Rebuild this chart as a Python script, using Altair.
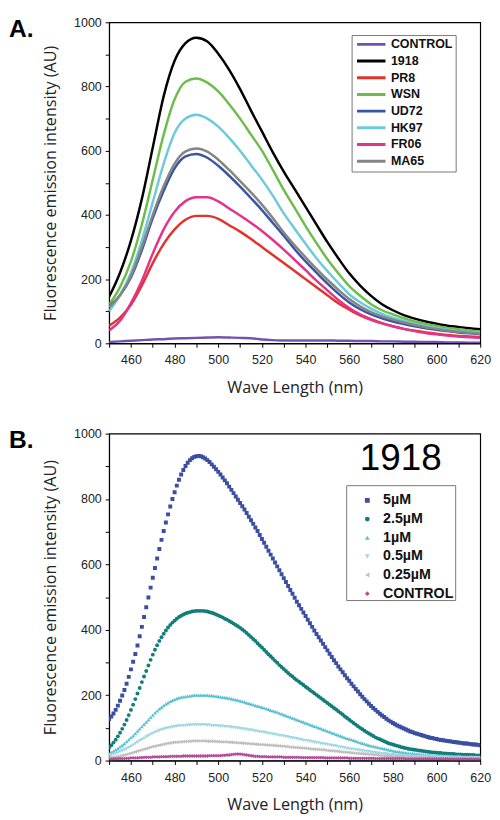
import altair as alt
import pandas as pd

# ---------------- Panel A data (5 nm steps) ----------------
WL_A = list(range(450, 621, 5))
A_SERIES = ["CONTROL", "1918", "PR8", "WSN", "UD72", "HK97", "FR06", "MA65"]
A_COLORS = ["#7552b0", "#000000", "#e5312b", "#6cbd4b", "#3a55a5", "#6ccadb", "#e4338a", "#858585"]

A_CONTROL = [4, 6, 8, 10, 12, 13, 15, 16, 17, 18, 19, 18, 17, 16, 12, 10, 9, 9, 9, 9, 9, 8, 8, 7, 7, 6, 6, 5, 5, 4, 4, 3, 3, 2, 2]
A_1918 = [145, 220, 320, 450, 610, 770, 880, 935, 952, 940, 902, 852, 792, 725, 660, 595, 535, 480, 425, 370, 315, 265, 218, 180, 148, 122, 103, 88, 77, 68, 61, 55, 51, 47, 44]
A_PR8 = [55, 80, 120, 180, 250, 310, 355, 385, 397, 397, 388, 368, 348, 325, 300, 275, 250, 225, 200, 175, 150, 125, 105, 87, 73, 62, 53, 45, 39, 34, 30, 26, 23, 21, 20]
A_WSN = [120, 175, 255, 370, 510, 650, 760, 815, 825, 812, 785, 745, 700, 650, 600, 540, 478, 422, 365, 312, 262, 218, 178, 148, 122, 103, 90, 78, 68, 60, 54, 48, 44, 40, 37]
A_UD72 = [115, 150, 205, 290, 390, 475, 545, 582, 590, 578, 553, 522, 488, 452, 415, 375, 335, 293, 255, 220, 186, 155, 127, 106, 90, 78, 68, 60, 53, 47, 42, 38, 34, 31, 29]
A_HK97 = [100, 150, 220, 320, 440, 560, 655, 700, 712, 700, 675, 640, 600, 555, 510, 460, 405, 357, 310, 265, 225, 188, 153, 128, 108, 92, 80, 70, 61, 53, 47, 42, 38, 35, 33]
A_FR06 = [40, 70, 125, 195, 280, 355, 410, 443, 455, 455, 442, 420, 398, 375, 350, 322, 292, 260, 228, 195, 165, 135, 110, 90, 75, 63, 53, 45, 38, 32, 28, 24, 21, 19, 17]
A_MA65 = [112, 150, 210, 300, 400, 490, 560, 598, 607, 597, 572, 540, 505, 470, 432, 390, 345, 305, 268, 232, 198, 167, 138, 115, 97, 84, 74, 65, 57, 50, 45, 40, 36, 33, 30]
A_VALUES = [A_CONTROL, A_1918, A_PR8, A_WSN, A_UD72, A_HK97, A_FR06, A_MA65]

# ---------------- Panel B data (1 nm steps) ----------------
WL_B = list(range(450, 621, 1))
B_SERIES = ["5µM", "2.5µM", "1µM", "0.5µM", "0.25µM", "CONTROL"]
B_COLORS = ["#3b4fa2", "#127e79", "#58c0d2", "#a0d7e3", "#bdbdbd", "#b24c9c"]
B_SHAPES = ["square", "circle", "triangle-up", "triangle-down", "triangle-left", "diamond"]
B_SIZES = [16, 15, 34, 32, 32, 38]

B_5 = [127, 135, 144, 155, 168, 183, 199, 216, 235, 256,
       279, 302, 326, 352, 380, 409, 439, 469, 499, 529,
       559, 589, 618, 647, 675, 702, 728, 753, 777, 800,
       821, 841, 859, 875, 889, 901, 911, 919, 925, 929,
       931, 932, 931, 928, 924, 919, 913, 906, 899, 891,
       883, 875, 866, 857, 848, 838, 828, 818, 808, 798,
       788, 778, 768, 757, 746, 735, 724, 713, 702, 690,
       678, 666, 654, 642, 630, 618, 606, 594, 582, 570,
       558, 546, 534, 522, 510, 498, 486, 475, 464, 453,
       442, 431, 420, 409, 398, 387, 377, 367, 357, 347,
       337, 327, 317, 307, 298, 288, 279, 270, 261, 252,
       244, 235, 227, 219, 211, 203, 195, 188, 181, 174,
       167, 161, 155, 149, 143, 138, 133, 128, 123, 119,
       115, 111, 107, 104, 101, 98, 95, 92, 89, 87,
       84, 82, 80, 78, 76, 74, 72, 70, 69, 67,
       66, 64, 63, 62, 61, 60, 59, 58, 57, 56,
       55, 54, 53, 52, 52, 51, 50, 49, 49, 48,
       47]
B_25 = [40, 47, 55, 64, 74, 85, 97, 110, 124, 139,
        155, 171, 188, 205, 222, 240, 257, 274, 291, 308,
        324, 339, 353, 366, 377, 388, 398, 407, 415, 422,
        428, 434, 439, 443, 447, 450, 452, 454, 456, 457,
        458, 458, 458, 458, 457, 456, 454, 452, 450, 447,
        444, 441, 438, 434, 431, 427, 423, 419, 415, 411,
        406, 401, 396, 390, 384, 378, 372, 366, 359, 352,
        346, 339, 332, 325, 319, 312, 305, 299, 292, 286,
        280, 274, 268, 262, 257, 251, 246, 241, 236, 231,
        226, 221, 216, 211, 206, 201, 196, 191, 186, 181,
        176, 171, 166, 161, 156, 151, 146, 141, 135, 130,
        125, 120, 115, 110, 105, 100, 96, 91, 87, 83,
        79, 75, 71, 68, 65, 62, 59, 56, 53, 51,
        49, 47, 45, 43, 41, 39, 38, 36, 35, 34,
        33, 32, 31, 30, 29, 28, 27, 26, 25, 25,
        24, 23, 23, 22, 22, 21, 21, 20, 20, 19,
        19, 19, 18, 18, 18, 17, 17, 17, 16, 16,
        16]
B_1 = [22, 25, 29, 33, 37, 42, 47, 52, 58, 64,
       70, 76, 83, 90, 97, 104, 111, 118, 125, 132,
       139, 146, 152, 158, 163, 168, 173, 177, 181, 184,
       187, 190, 192, 194, 195, 196, 197, 198, 199, 200,
       200, 200, 200, 200, 200, 200, 199, 199, 198, 197,
       196, 195, 194, 193, 192, 191, 189, 188, 186, 185,
       183, 181, 179, 177, 175, 173, 171, 169, 167, 165,
       163, 161, 159, 157, 154, 152, 150, 148, 145, 143,
       140, 138, 135, 133, 130, 128, 125, 123, 120, 118,
       115, 113, 110, 108, 105, 103, 100, 98, 95, 93,
       90, 88, 85, 83, 80, 78, 75, 73, 70, 68,
       66, 64, 62, 60, 57, 55, 53, 51, 49, 47,
       45, 44, 42, 41, 39, 38, 36, 35, 33, 32,
       30, 29, 28, 27, 26, 25, 24, 23, 22, 22,
       21, 21, 20, 19, 18, 18, 17, 17, 16, 16,
       16, 15, 15, 15, 14, 14, 14, 13, 13, 13,
       13, 13, 12, 12, 12, 12, 12, 12, 11, 11,
       11]
B_05 = [15, 17, 19, 21, 24, 27, 30, 33, 36, 40,
        43, 47, 52, 56, 60, 64, 68, 72, 76, 80,
        83, 86, 89, 92, 94, 96, 98, 100, 101, 103,
        104, 105, 106, 106, 107, 107, 108, 108, 109, 109,
        109, 109, 109, 109, 109, 108, 108, 107, 107, 106,
        106, 105, 105, 104, 104, 103, 102, 101, 100, 99,
        98, 97, 96, 95, 94, 93, 92, 90, 89, 88,
        87, 86, 85, 83, 82, 81, 80, 78, 77, 76,
        75, 73, 72, 70, 69, 68, 67, 65, 64, 62,
        61, 60, 59, 57, 56, 55, 54, 52, 51, 50,
        49, 47, 46, 45, 44, 42, 41, 40, 39, 37,
        36, 35, 34, 33, 32, 31, 30, 29, 28, 27,
        26, 25, 24, 23, 22, 21, 21, 20, 19, 18,
        18, 17, 17, 16, 16, 15, 15, 14, 14, 13,
        13, 13, 13, 12, 12, 12, 12, 11, 11, 11,
        11, 11, 11, 10, 10, 10, 10, 10, 10, 10,
        10, 10, 9, 9, 9, 9, 9, 9, 9, 9,
        9]
B_025 = [8, 9, 10, 11, 13, 14, 16, 17, 19, 21,
         23, 25, 27, 29, 31, 33, 35, 37, 39, 41,
         43, 44, 46, 47, 49, 50, 52, 53, 54, 55,
         56, 56, 57, 57, 58, 58, 59, 59, 60, 60,
         60, 60, 60, 60, 60, 59, 59, 59, 59, 58,
         58, 57, 57, 57, 57, 56, 56, 55, 55, 54,
         54, 53, 53, 52, 52, 51, 51, 50, 50, 49,
         49, 48, 48, 47, 47, 46, 46, 45, 45, 44,
         44, 43, 42, 41, 41, 40, 40, 39, 39, 38,
         38, 37, 36, 35, 35, 34, 34, 33, 33, 32,
         31, 30, 30, 29, 29, 28, 27, 26, 26, 25,
         25, 24, 23, 22, 22, 21, 21, 20, 20, 19,
         19, 18, 18, 17, 16, 15, 15, 14, 14, 13,
         13, 13, 13, 12, 12, 12, 11, 11, 11, 11,
         10, 10, 10, 9, 9, 9, 9, 9, 9, 8,
         8, 8, 8, 8, 8, 8, 8, 8, 7, 7,
         7, 7, 7, 7, 7, 7, 7, 7, 6, 6,
         6]
B_CTRL = [4, 4, 5, 5, 6, 6, 6, 6, 7, 7,
          8, 8, 8, 8, 9, 9, 10, 10, 10, 10,
          11, 11, 11, 11, 12, 12, 12, 12, 13, 13,
          13, 13, 13, 13, 14, 14, 14, 14, 14, 14,
          14, 14, 14, 14, 14, 14, 15, 15, 15, 15,
          15, 15, 16, 16, 17, 17, 18, 19, 20, 20,
          20, 19, 18, 17, 16, 15, 14, 13, 13, 12,
          12, 12, 12, 11, 11, 11, 11, 11, 11, 11,
          10, 10, 10, 10, 10, 10, 10, 10, 9, 9,
          9, 9, 9, 9, 9, 9, 9, 9, 9, 8,
          8, 8, 8, 8, 8, 8, 8, 8, 8, 8,
          7, 7, 7, 7, 7, 7, 7, 7, 7, 7,
          7, 7, 6, 6, 6, 6, 6, 6, 6, 6,
          6, 6, 6, 6, 6, 6, 5, 5, 5, 5,
          5, 5, 5, 5, 5, 5, 5, 5, 5, 5,
          5, 5, 5, 5, 5, 5, 4, 4, 4, 4,
          4, 4, 4, 4, 4, 4, 4, 4, 4, 4,
          4]
B_VALUES = [B_5, B_25, B_1, B_05, B_025, B_CTRL]

X_TICKS = [450, 460, 470, 480, 490, 500, 510, 520, 530, 540, 550, 560, 570, 580, 590, 600, 610, 620]
Y_TICKS = [0, 100, 200, 300, 400, 500, 600, 700, 800, 900, 1000]

# ---------------- Build tables ----------------
rows_a = []
for name, vals in zip(A_SERIES, A_VALUES):
    for w, v in zip(WL_A, vals):
        rows_a.append({"wl": w, "val": v, "strain": name})
df_a = pd.DataFrame(rows_a)

rows_b = []
for name, vals in zip(B_SERIES, B_VALUES):
    for w, v in zip(WL_B, vals):
        rows_b.append({"wl": w, "val": v, "conc": name})
df_b = pd.DataFrame(rows_b)

LABEL_FONT = "Liberation Sans"
TITLE_FONT = "Open Sans"


def x_enc():
    return alt.X("wl:Q", scale=alt.Scale(domain=[450, 620], nice=False, zero=False),
                 axis=alt.Axis(values=X_TICKS, labelExpr="datum.value % 20 == 0 ? datum.label : ''",
                               title="Wave Length (nm)", format="d", labelPadding=7, titlePadding=13,
                               labelFlush=False, labelOverlap=False))


def y_enc():
    return alt.Y("val:Q", scale=alt.Scale(domain=[0, 1000], nice=False),
                 axis=alt.Axis(values=Y_TICKS, labelExpr="datum.value % 200 == 0 ? datum.label : ''",
                               title="Fluorescence emission intensity (AU)", format="d",
                               labelPadding=4, titlePadding=15, labelFlush=False, labelOverlap=False))


# ---------------- Panel A ----------------
legend_a = alt.Legend(title=None, orient="none", legendX=247, legendY=13,
                      symbolType="stroke", symbolSize=841, symbolStrokeWidth=3, clipHeight=13,
                      labelFont=LABEL_FONT, labelFontWeight="bold", labelFontSize=12.7, labelColor="#111",
                      rowPadding=3, padding=3, symbolOffset=1, labelOffset=4,
                      strokeColor="#777", fillColor="white")

lines_a = alt.Chart(df_a).mark_line(strokeWidth=2.5, interpolate="monotone", clip=True).encode(
    x=x_enc(), y=y_enc(),
    color=alt.Color("strain:N", scale=alt.Scale(domain=A_SERIES, range=A_COLORS), legend=legend_a),
)

label_a = alt.Chart(pd.DataFrame({"t": ["A."]})).mark_text(
    font=LABEL_FONT, fontWeight="bold", fontSize=25, align="left", baseline="alphabetic", color="black"
).encode(text="t:N", x=alt.value(-102), y=alt.value(15))

panel_a = alt.layer(lines_a, label_a).properties(width=378, height=327)

# ---------------- Panel B ----------------
color_b = alt.Scale(domain=B_SERIES, range=B_COLORS)
shape_b = alt.Scale(domain=B_SERIES, range=B_SHAPES)

points_b = alt.Chart(df_b).mark_point(filled=True, opacity=1, clip=True).encode(
    x=x_enc(), y=y_enc(),
    color=alt.Color("conc:N", scale=color_b, legend=None),
    shape=alt.Shape("conc:N", scale=shape_b, legend=None),
    size=alt.Size("conc:N", scale=alt.Scale(domain=B_SERIES, range=B_SIZES), legend=None),
)

# legend box drawn with the same colour / shape scales
LEG_X0, LEG_X1, LEG_Y0, LEG_Y1 = 242, 353, 53, 170
LEG_SYM_X, LEG_LAB_X, LEG_ROW0, LEG_STEP = 263, 279, 68, 19

leg_box = alt.Chart(pd.DataFrame({"k": [0]})).mark_rect(
    fill="white", stroke="#777", strokeWidth=1
).encode(x=alt.value(LEG_X0), x2=alt.value(LEG_X1), y=alt.value(LEG_Y0), y2=alt.value(LEG_Y1))

df_leg = pd.DataFrame({"conc": B_SERIES})
leg_layers = [leg_box]
for i, name in enumerate(B_SERIES):
    base = alt.Chart(df_leg).transform_filter(alt.datum.conc == name)
    leg_layers.append(base.mark_point(filled=True, opacity=1, size=24).encode(
        x=alt.value(LEG_SYM_X), y=alt.value(LEG_ROW0 + LEG_STEP * i),
        color=alt.Color("conc:N", scale=color_b, legend=None),
        shape=alt.Shape("conc:N", scale=shape_b, legend=None),
    ))
    leg_layers.append(base.mark_text(
        font=LABEL_FONT, fontWeight="bold", fontSize=14.5, align="left", baseline="middle", color="#111"
    ).encode(text="conc:N", x=alt.value(LEG_LAB_X), y=alt.value(LEG_ROW0 + LEG_STEP * i)))

label_b = alt.Chart(pd.DataFrame({"t": ["B."]})).mark_text(
    font=LABEL_FONT, fontWeight="bold", fontSize=25, align="left", baseline="alphabetic", color="black"
).encode(text="t:N", x=alt.value(-102), y=alt.value(15))

title_1918 = alt.Chart(pd.DataFrame({"t": ["1918"]})).mark_text(
    font=LABEL_FONT, fontSize=37.5, align="center", baseline="alphabetic", color="black"
).encode(text="t:N", x=alt.value(297), y=alt.value(37))

panel_b = alt.layer(points_b, *leg_layers, title_1918, label_b).properties(width=378, height=333)

chart = alt.vconcat(panel_a, panel_b, spacing=31).resolve_scale(
    color="independent", shape="independent", size="independent"
).resolve_legend(color="independent").properties(padding=0).configure_view(
    stroke="black", strokeWidth=1.2
).configure_axis(
    labelFont=LABEL_FONT, labelFontSize=12.7, labelColor="#222",
    titleFont=TITLE_FONT, titleFontSize=16.5, titleFontWeight="normal", titleColor="#222",
    tickColor="black", domainColor="black", tickSize=4, grid=False, domainWidth=1, tickWidth=1,
)

chart.save("out.html", embed_options={"renderer": "svg", "actions": False})
